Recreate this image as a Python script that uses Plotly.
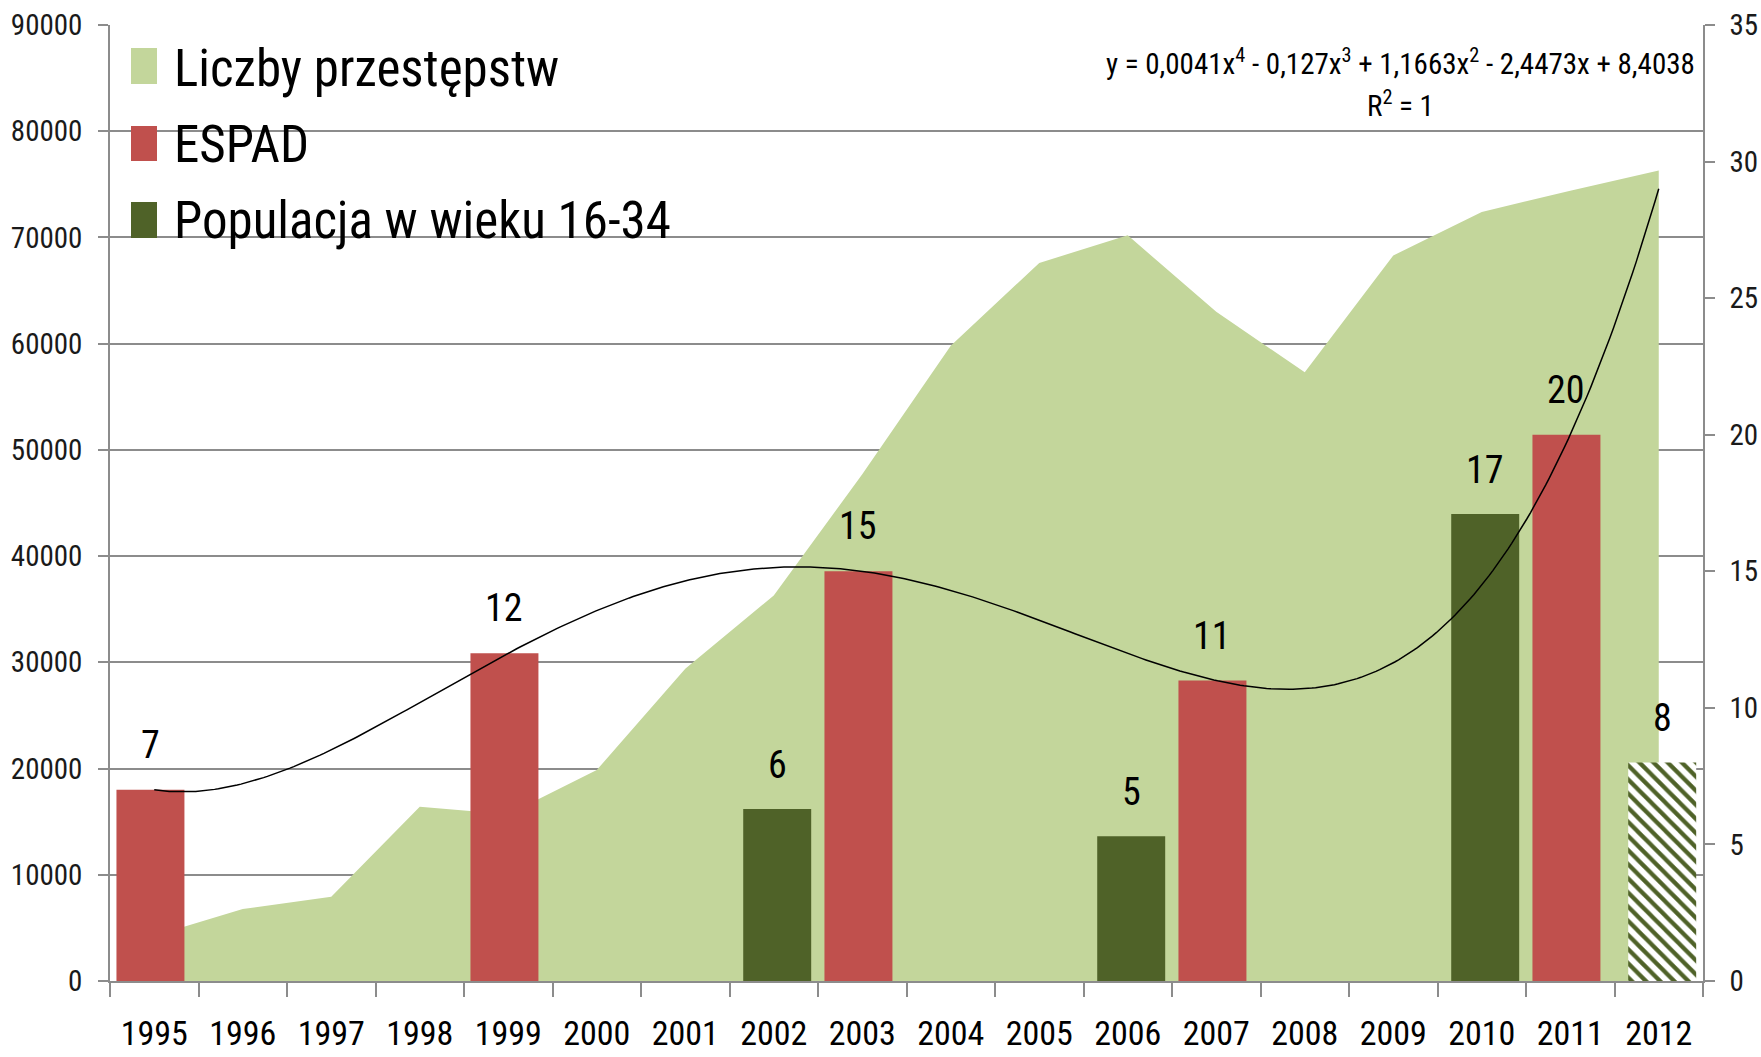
import numpy as np
import plotly.graph_objects as go

# ---------------- data ----------------
years = [1995, 1996, 1997, 1998, 1999, 2000, 2001, 2002, 2003,
         2004, 2005, 2006, 2007, 2008, 2009, 2010, 2011, 2012]
crimes = [4260, 6780, 7930, 16400, 15700, 19860, 29400, 36300, 47700,
          59800, 67600, 70200, 63000, 57300, 68300, 72400, 74400, 76300]
espad_years = [1995, 1999, 2003, 2007, 2011]
espad_vals = [7, 12, 15, 11, 20]
pop_years = [2002, 2006, 2010, 2012]
pop_vals = [6.3, 5.3, 17.1, 8]
pop_labels = ["6", "5", "17", "8"]
legend_names = ["Liczby przestępstw", "ESPAD", "Populacja w wieku 16-34"]
eq_line1 = "y = 0,0041x<sup>4</sup> - 0,127x<sup>3</sup> + 1,1663x<sup>2</sup> - 2,4473x + 8,4038"
eq_line2 = "R<sup>2</sup> = 1"

# ---------------- style ----------------
FONT = "Liberation Sans Narrow, Arial Narrow, Roboto Condensed, sans-serif"
C_AREA = "#C3D69B"
C_RED = "#C0504D"
C_DARK = "#4F6228"
C_GRID = "#8C8C8C"
W, H = 1761, 1057
PL, PR, PT, PB = 110, 1703, 25, 981
BAR_W = 0.768
OFF_ESPAD = -0.427
OFF_POP = -0.345


def px_x(px):
    return (px - PL) / (PR - PL)


def px_y(py):
    return (PB - py) / (PB - PT)


idx = {y: i + 1 for i, y in enumerate(years)}
xs = [idx[y] for y in years]
x_espad = [idx[y] for y in espad_years]
x_pop = [idx[y] for y in pop_years]

# polynomial (order 4) trend line of ESPAD series, category index as x
coef = np.polyfit(x_espad, espad_vals, 4)
xt = np.linspace(1, len(years), 400)
yt = np.polyval(coef, xt)

fig = go.Figure()
fig.add_trace(go.Scatter(x=xs, y=crimes, mode="lines", fill="tozeroy",
                         fillcolor=C_AREA, line=dict(width=0, color=C_AREA),
                         name=legend_names[0], showlegend=False, hoverinfo="skip"))
fig.add_trace(go.Bar(x=x_espad, y=espad_vals, yaxis="y2", width=BAR_W, offset=OFF_ESPAD,
                     marker=dict(color=C_RED, line=dict(width=0)),
                     name=legend_names[1], showlegend=False))
fig.add_trace(go.Bar(x=x_pop, y=pop_vals, yaxis="y2", width=BAR_W, offset=OFF_POP,
                     marker=dict(color=C_DARK, line=dict(width=0),
                                 pattern=dict(shape=["", "", "", "\\"], bgcolor="white",
                                              fgcolor=C_DARK, size=10, solidity=0.42,
                                              fillmode="replace")),
                     name=legend_names[2], showlegend=False))
fig.add_trace(go.Scatter(x=xt, y=yt, yaxis="y2", mode="lines",
                         line=dict(color="black", width=1.5),
                         showlegend=False, hoverinfo="skip"))

annotations = []
for x, v in zip(x_espad, espad_vals):
    annotations.append(dict(x=x + OFF_ESPAD + BAR_W / 2, y=v, xref="x", yref="y2",
                            text=str(v), showarrow=False, yanchor="middle", yshift=45,
                            font=dict(family=FONT, size=38, color="black")))
for x, v, t in zip(x_pop, pop_vals, pop_labels):
    annotations.append(dict(x=x + OFF_POP + BAR_W / 2, y=v, xref="x", yref="y2",
                            text=t, showarrow=False, yanchor="middle", yshift=44,
                            font=dict(family=FONT, size=38, color="black")))

# legend (manual, to match large swatches)
shapes = []
sw_rows = [(48, 84, 69), (126, 161, 144), (202, 238, 220)]
sw_cols = [C_AREA, C_RED, C_DARK]
for (y0, y1, yc), col, name in zip(sw_rows, sw_cols, legend_names):
    shapes.append(dict(type="rect", xref="paper", yref="paper",
                       x0=px_x(131), x1=px_x(157), y0=px_y(y1), y1=px_y(y0),
                       fillcolor=col, line=dict(width=0), layer="above"))
    annotations.append(dict(x=px_x(172), y=px_y(yc), xref="paper", yref="paper",
                            text=name, showarrow=False, xanchor="left", yanchor="middle",
                            font=dict(family=FONT, size=51, color="black")))

annotations.append(dict(x=px_x(1400), y=px_y(62), xref="paper", yref="paper",
                        text=eq_line1, showarrow=False, xanchor="center", yanchor="middle",
                        font=dict(family=FONT, size=29, color="black")))
annotations.append(dict(x=px_x(1400), y=px_y(104), xref="paper", yref="paper",
                        text=eq_line2, showarrow=False, xanchor="center", yanchor="middle",
                        font=dict(family=FONT, size=29, color="black")))

fig.update_layout(
    width=W, height=H,
    margin=dict(l=PL, r=W - PR, t=PT, b=H - PB, pad=0, autoexpand=False),
    paper_bgcolor="white", plot_bgcolor="white",
    barmode="overlay",
    font=dict(family=FONT, color="black"),
    showlegend=False,
    xaxis=dict(range=[0.5, len(years) + 0.5], tickvals=xs, ticktext=[str(y) for y in years],
               ticks="", showgrid=False, zeroline=False, automargin=False,
               showline=True, linecolor=C_GRID, linewidth=1.5,
               tickfont=dict(family=FONT, size=34, color="black"),
               ticklabelstandoff=21,
               minor=dict(tickvals=list(np.arange(0.5, len(years) + 1, 1.0)),
                          ticks="outside", ticklen=14, tickcolor=C_GRID, tickwidth=1.5)),
    yaxis=dict(range=[0, 90000], dtick=10000, tickformat="d", automargin=False,
               showgrid=True, gridcolor=C_GRID, gridwidth=1.5, zeroline=False,
               showline=True, linecolor=C_GRID, linewidth=1.5,
               ticks="outside", ticklen=10, tickcolor=C_GRID, tickwidth=1.5,
               ticklabelstandoff=10,
               tickfont=dict(family=FONT, size=29, color="#1a1a1a")),
    yaxis2=dict(range=[0, 35], dtick=5, overlaying="y", side="right", automargin=False,
                showgrid=False, zeroline=False,
                showline=True, linecolor=C_GRID, linewidth=1.5,
                ticks="outside", ticklen=10, tickcolor=C_GRID, tickwidth=1.5,
                ticklabelstandoff=9,
                tickfont=dict(family=FONT, size=29, color="#1a1a1a")),
    shapes=shapes,
    annotations=annotations,
)

fig.write_html("out.html", config={"displayModeBar": False},
               post_script="document.body.style.margin='0';document.body.style.overflow='hidden';")
